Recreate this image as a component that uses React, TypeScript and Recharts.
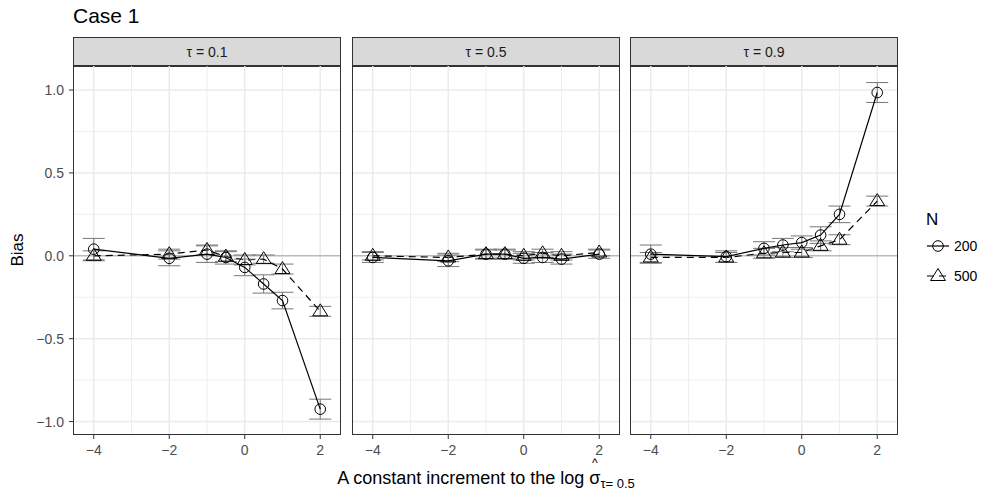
import React from 'react';
import { ComposedChart, Line, XAxis, YAxis, ErrorBar, ReferenceLine } from 'recharts';

const increments = [-4, -2, -1, -0.5, 0, 0.5, 1, 2];
const xTicks = [-4, -2, 0, 2];
const xMinor = [-3, -1, 1];
const yTicks = [-1, -0.5, 0, 0.5, 1];
const yMinor = [-0.75, -0.25, 0.25, 0.75];

// tau = 0.1
const bias200Tau01 = [0.04, -0.015, 0.01, -0.01, -0.07, -0.17, -0.27, -0.925];
const se200Tau01 = [0.065, 0.045, 0.05, 0.04, 0.05, 0.055, 0.05, 0.06];
const bias500Tau01 = [0.0, 0.01, 0.035, -0.005, -0.025, -0.02, -0.08, -0.335];
const se500Tau01 = [0.03, 0.03, 0.03, 0.03, 0.03, 0.025, 0.03, 0.03];
// tau = 0.5
const bias200Tau05 = [-0.01, -0.03, 0.01, 0.01, -0.015, -0.01, -0.02, 0.01];
const se200Tau05 = [0.03, 0.035, 0.03, 0.03, 0.03, 0.03, 0.03, 0.025];
const bias500Tau05 = [0.0, -0.01, 0.01, 0.01, 0.0, 0.015, 0.0, 0.02];
const se500Tau05 = [0.025, 0.025, 0.025, 0.025, 0.025, 0.025, 0.025, 0.02];
// tau = 0.9
const bias200Tau09 = [0.01, -0.005, 0.045, 0.065, 0.08, 0.125, 0.25, 0.985];
const se200Tau09 = [0.055, 0.035, 0.04, 0.04, 0.04, 0.05, 0.05, 0.06];
const bias500Tau09 = [-0.01, -0.01, 0.015, 0.02, 0.02, 0.06, 0.097, 0.33];
const se500Tau09 = [0.03, 0.03, 0.03, 0.03, 0.03, 0.03, 0.03, 0.03];

const buildRows = (b200: number[], s200: number[], b500: number[], s500: number[]) =>
  increments.map((x, i) => ({ x, b200: b200[i], e200: s200[i], b500: b500[i], e500: s500[i] }));

const panels = [
  { tau: '0.1', rows: buildRows(bias200Tau01, se200Tau01, bias500Tau01, se500Tau01) },
  { tau: '0.5', rows: buildRows(bias200Tau05, se200Tau05, bias500Tau05, se500Tau05) },
  { tau: '0.9', rows: buildRows(bias200Tau09, se200Tau09, bias500Tau09, se500Tau09) },
];

const FONT = '"Liberation Sans", Arial, sans-serif';
const PLOT_TOP = 66;
const PLOT_H = 369;
const PLOT_W = 268;
const lefts = [73, 352, 630];

const minus = (s: string) => s.replace('-', '\u2212');

const circleDot = (p: any) => (
  <circle key={`c${p.index}`} cx={p.cx} cy={p.cy} r={5.3} fill="none" stroke="#000" strokeWidth={1} />
);
const triangleDot = (p: any) => (
  <polygon
    key={`t${p.index}`}
    points={`${p.cx},${p.cy - 7.5} ${p.cx - 7.5},${p.cy + 4.5} ${p.cx + 7.5},${p.cy + 4.5}`}
    fill="none"
    stroke="#000"
    strokeWidth={1}
  />
);

const Panel = ({ idx }: { idx: number }) => {
  const { tau, rows } = panels[idx];
  const showY = idx === 0;
  const yW = showY ? lefts[0] : 0;
  const left = lefts[idx];
  return (
    <>
      <div
        style={{
          position: 'absolute', left, top: 37, width: PLOT_W, height: 30, boxSizing: 'border-box',
          background: '#D9D9D9', border: '1px solid #333', fontSize: 14, color: '#1A1A1A',
          display: 'flex', alignItems: 'center', justifyContent: 'center',
        }}
      >
        τ = {tau}
      </div>
      <div style={{ position: 'absolute', left: left - yW, top: PLOT_TOP }}>
        <ComposedChart
          width={PLOT_W + yW}
          height={PLOT_H + 40}
          data={rows}
          margin={{ top: 0, right: 0, bottom: 0, left: 0 }}
        >
          <XAxis
            dataKey="x"
            type="number"
            domain={[-4.55, 2.55]}
            ticks={xTicks}
            allowDataOverflow
            height={40}
            tickSize={4}
            tickMargin={6}
            axisLine={false}
            tickLine={{ stroke: '#333' }}
            tick={{ fill: '#4D4D4D', fontSize: 14 }}
            tickFormatter={(v) => minus(String(v))}
          />
          <YAxis
            type="number"
            domain={[-1.081, 1.145]}
            ticks={yTicks}
            allowDataOverflow
            hide={!showY}
            width={yW}
            tickSize={4}
            tickMargin={5}
            axisLine={false}
            tickLine={{ stroke: '#333' }}
            tick={{ fill: '#4D4D4D', fontSize: 14 }}
            tickFormatter={(v) => minus(Number(v).toFixed(1))}
          />
          {yMinor.map((v) => (
            <ReferenceLine key={`ym${v}`} y={v} stroke="#EBEBEB" strokeWidth={0.8} />
          ))}
          {xMinor.map((v) => (
            <ReferenceLine key={`xm${v}`} x={v} stroke="#EBEBEB" strokeWidth={0.8} />
          ))}
          {yTicks.map((v) => (
            <ReferenceLine key={`y${v}`} y={v} stroke="#EBEBEB" strokeWidth={1.5} />
          ))}
          {xTicks.map((v) => (
            <ReferenceLine key={`x${v}`} x={v} stroke="#EBEBEB" strokeWidth={1.5} />
          ))}
          <ReferenceLine y={0} stroke="#A6A6A6" strokeWidth={1} />
          <Line
            dataKey="b500"
            stroke="#000"
            strokeWidth={1.2}
            strokeDasharray="7 5"
            dot={triangleDot}
            activeDot={false}
            isAnimationActive={false}
          >
            <ErrorBar dataKey="e500" direction="y" width={11} stroke="#777" strokeWidth={1} />
          </Line>
          <Line
            dataKey="b200"
            stroke="#000"
            strokeWidth={1.2}
            dot={circleDot}
            activeDot={false}
            isAnimationActive={false}
          >
            <ErrorBar dataKey="e200" direction="y" width={11} stroke="#777" strokeWidth={1} />
          </Line>
        </ComposedChart>
      </div>
      <div
        style={{
          position: 'absolute', left, top: PLOT_TOP - 1, width: PLOT_W, height: PLOT_H + 1,
          boxSizing: 'border-box', border: '1px solid #333', pointerEvents: 'none',
        }}
      />
    </>
  );
};

const LegendKey = ({ dashed, tri }: { dashed?: boolean; tri?: boolean }) => (
  <svg width={24} height={18} style={{ display: 'block' }}>
    <line x1={1} y1={9} x2={23} y2={9} stroke="#000" strokeWidth={1.2} strokeDasharray={dashed ? '7 5' : undefined} />
    {tri ? (
      <polygon points="12,1.5 4.5,13.5 19.5,13.5" fill="none" stroke="#000" strokeWidth={1} />
    ) : (
      <circle cx={12} cy={9} r={5.3} fill="none" stroke="#000" strokeWidth={1} />
    )}
  </svg>
);

export default function App() {
  return (
    <div
      style={{
        position: 'absolute', left: 0, top: 0, width: 990, height: 493,
        background: '#fff', fontFamily: FONT, overflow: 'hidden',
      }}
    >
      <div style={{ position: 'absolute', left: 73, top: 4, fontSize: 21, color: '#000' }}>Case 1</div>
      {panels.map((_, i) => (
        <Panel key={i} idx={i} />
      ))}
      <div
        style={{
          position: 'absolute', left: 18, top: 250, fontSize: 17, color: '#000',
          transform: 'translate(-50%, -50%) rotate(-90deg)', whiteSpace: 'nowrap',
        }}
      >
        Bias
      </div>
      <div
        style={{
          position: 'absolute', left: 486, top: 468, transform: 'translateX(-50%)',
          fontSize: 18, lineHeight: '20px', color: '#000', whiteSpace: 'nowrap',
        }}
      >
        A constant increment to the log{' '}
        <span style={{ position: 'relative', display: 'inline-block' }}>
          σ
          <span
            style={{
              position: 'absolute', left: '50%', top: -11, transform: 'translateX(-50%)',
              fontSize: 12, lineHeight: '12px',
            }}
          >
            ^
          </span>
        </span>
        <span style={{ fontSize: 13, position: 'relative', top: 4 }}>τ= 0.5</span>
      </div>
      <div style={{ position: 'absolute', left: 926, top: 210, color: '#000' }}>
        <div style={{ fontSize: 17, marginBottom: 7 }}>N</div>
        <div style={{ display: 'flex', alignItems: 'center', gap: 4, fontSize: 14, marginBottom: 12 }}>
          <LegendKey />
          <span>200</span>
        </div>
        <div style={{ display: 'flex', alignItems: 'center', gap: 4, fontSize: 14 }}>
          <LegendKey dashed tri />
          <span>500</span>
        </div>
      </div>
    </div>
  );
}
